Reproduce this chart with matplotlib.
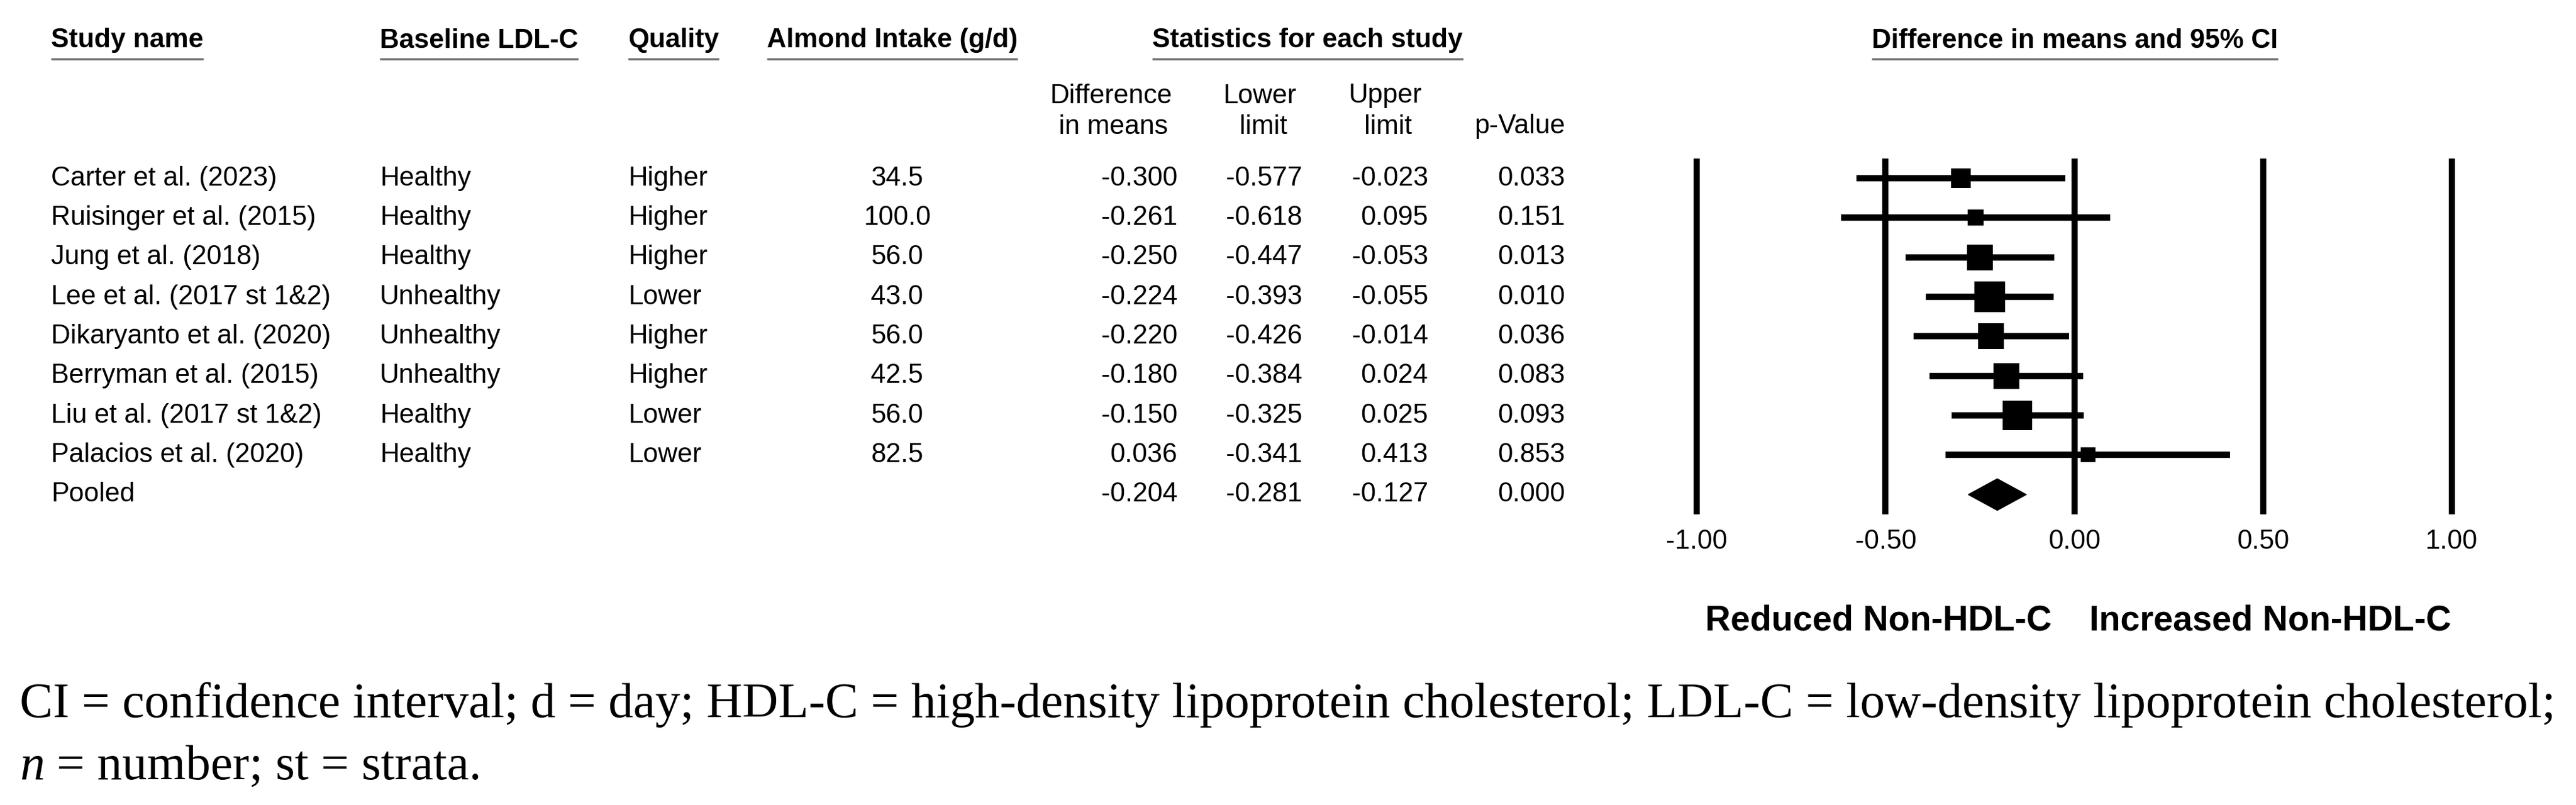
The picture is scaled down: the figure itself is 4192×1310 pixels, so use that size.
import numpy as np
import matplotlib.pyplot as plt
from matplotlib.transforms import blended_transform_factory

plt.rcParams['axes.unicode_minus'] = False

# ---- data ----
studies = ["Carter et al. (2023)", "Ruisinger et al. (2015)", "Jung et al. (2018)",
           "Lee et al. (2017 st 1&2)", "Dikaryanto et al. (2020)", "Berryman et al. (2015)",
           "Liu et al. (2017 st 1&2)", "Palacios et al. (2020)"]
baseline = ["Healthy", "Healthy", "Healthy", "Unhealthy", "Unhealthy", "Unhealthy",
            "Healthy", "Healthy"]
quality = ["Higher", "Higher", "Higher", "Lower", "Higher", "Higher", "Lower", "Lower"]
intake = [34.5, 100.0, 56.0, 43.0, 56.0, 42.5, 56.0, 82.5]
diff = [-0.300, -0.261, -0.250, -0.224, -0.220, -0.180, -0.150, 0.036]
lower = [-0.577, -0.618, -0.447, -0.393, -0.426, -0.384, -0.325, -0.341]
upper = [-0.023, 0.095, -0.053, -0.055, -0.014, 0.024, 0.025, 0.413]
pval = [0.033, 0.151, 0.013, 0.010, 0.036, 0.083, 0.093, 0.853]
weights = [8.2, 5.4, 14.2, 20.1, 14.2, 14.2, 18.5, 5.0]   # relative weight (%)
pooled = {"diff": -0.204, "lower": -0.281, "upper": -0.127, "p": 0.000}
xticks = [-1.0, -0.5, 0.0, 0.5, 1.0]

W, H = 4192, 1310
fig = plt.figure(figsize=(W / 100, H / 100), dpi=100)

# pixel-space axes for the table text
tab = fig.add_axes([0, 0, 1, 1])
tab.set_xlim(0, W)
tab.set_ylim(H, 0)
tab.axis('off')

# forest axes
x0, x1 = 2700, 4051
y0, y1 = 258, 837
ax = fig.add_axes([x0 / W, 1 - y1 / H, (x1 - x0) / W, (y1 - y0) / H])
n = len(studies)
ax.set_xlim(-1.1, 1.1)
ax.set_ylim(n + 0.5, -0.5)
for s in ax.spines.values():
    s.set_visible(False)
ax.set_yticks([])
ax.set_xticks(xticks)
ax.set_xticklabels(['%.2f' % v for v in xticks], fontsize=31.5, family='Liberation Sans')
ax.tick_params(axis='x', length=0, pad=17)
for v in xticks:
    ax.axvline(v, color='black', lw=7.2, zorder=1)

for i in range(n):
    ax.plot([lower[i], upper[i]], [i, i], color='black', lw=7.5,
            solid_capstyle='butt', zorder=2)
    side = 11.15 * np.sqrt(weights[i])
    ax.plot(diff[i], i, marker='s', ms=side * 0.72, color='black', mew=0, zorder=3)
ax.fill([pooled["lower"], pooled["diff"], pooled["upper"], pooled["diff"]],
        [n, n - 0.4, n, n + 0.4], color='black', zorder=3)

ax.text(-0.06, 0, "Reduced Non-HDL-C", transform=blended_transform_factory(ax.transData, tab.transData),
        ha='right', va='center', fontsize=41, fontweight='bold', family='Liberation Sans')
ax.text(0.04, 0, "Increased Non-HDL-C", transform=blended_transform_factory(ax.transData, tab.transData),
        ha='left', va='center', fontsize=41, fontweight='bold', family='Liberation Sans')
# shift both to y=1010 px
for t in ax.texts:
    t.set_y(1010)

# ---- table ----
rowtr = blended_transform_factory(tab.transData, ax.transData)
fs = 31.5
kw = dict(fontsize=fs, family='Liberation Sans', va='center', transform=rowtr)

def header(x, txt, ha='left'):
    t = tab.text(x, 66, txt, fontsize=fs, fontweight='bold', family='Liberation Sans',
                 ha=ha, va='center')
    return t

heads = [header(83, "Study name"), header(618, "Baseline LDL-C"), header(1022, "Quality"),
         header(1248, "Almond Intake (g/d)"), header(2128, "Statistics for each study", 'center'),
         header(3376, "Difference in means and 95% CI", 'center')]
fig.canvas.draw()
rend = fig.canvas.get_renderer()
inv = tab.transData.inverted()
for t in heads:
    bb = t.get_window_extent(rend)
    (xa, _), (xb, _) = inv.transform([[bb.x0, 0], [bb.x1, 0]])
    tab.plot([xa, xb], [96, 96], color='#707070', lw=2.5, solid_capstyle='butt')

sub = dict(fontsize=fs, family='Liberation Sans', va='center', ha='center')
tab.text(1808, 156, "Difference", **sub)
tab.text(1812, 206, "in means", **sub)
tab.text(2050, 156, "Lower", **sub)
tab.text(2056, 206, "limit", **sub)
tab.text(2254, 156, "Upper", **sub)
tab.text(2259, 206, "limit", **sub)
tab.text(2473, 206, "p-Value", **sub)

for i in range(n):
    tab.text(83, i, studies[i], ha='left', **kw)
    tab.text(618, i, baseline[i], ha='left', **kw)
    tab.text(1022, i, quality[i], ha='left', **kw)
    tab.text(1460, i, '%.1f' % intake[i], ha='center', **kw)
    tab.text(1916, i, '%.3f' % diff[i], ha='right', **kw)
    tab.text(2119, i, '%.3f' % lower[i], ha='right', **kw)
    tab.text(2324, i, '%.3f' % upper[i], ha='right', **kw)
    tab.text(2547, i, '%.3f' % pval[i], ha='right', **kw)
tab.text(83, n, "Pooled", ha='left', **kw)
tab.text(1916, n, '%.3f' % pooled["diff"], ha='right', **kw)
tab.text(2119, n, '%.3f' % pooled["lower"], ha='right', **kw)
tab.text(2324, n, '%.3f' % pooled["upper"], ha='right', **kw)
tab.text(2547, n, '%.3f' % pooled["p"], ha='right', **kw)

# ---- caption ----
cap1 = ("CI = confidence interval; d = day; HDL-C = high-density lipoprotein cholesterol; "
        "LDL-C = low-density lipoprotein cholesterol;")
cfs = 56
c1 = tab.text(32, 1167, cap1, fontsize=cfs, family='Liberation Serif', va='baseline', ha='left')
fig.canvas.draw()
w = c1.get_window_extent(rend).width
cfs = cfs * 4126 / w
c1.set_fontsize(cfs)
c2 = tab.text(32, 1268, "n", fontsize=cfs, family='Liberation Serif', style='italic',
              va='baseline', ha='left')
fig.canvas.draw()
bb = c2.get_window_extent(rend)
xn = inv.transform([[bb.x1, 0]])[0][0]
tab.text(xn, 1268, " = number; st = strata.", fontsize=cfs, family='Liberation Serif',
         va='baseline', ha='left')

fig.savefig("out.png", dpi=100, facecolor='white')
